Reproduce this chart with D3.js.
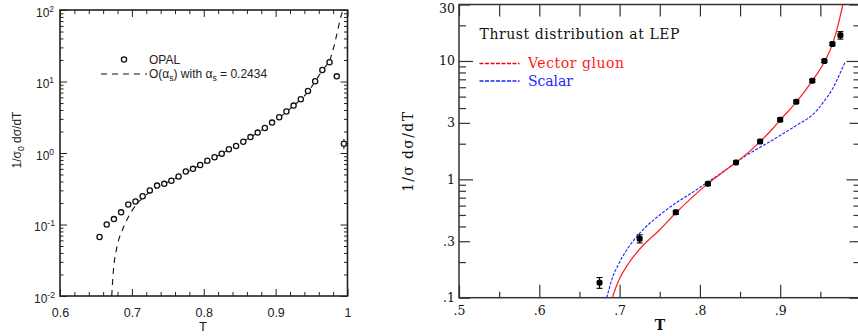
<!DOCTYPE html>
<html>
<head>
<meta charset="utf-8">
<script src="https://cdn.jsdelivr.net/npm/d3@7"></script>
<style>
body { margin: 0; background: #fff; }
svg { display: block; }
.sans text { font-family: "Liberation Sans", Arial, sans-serif; }
.serif text { font-family: "DejaVu Serif", serif; }
</style>
</head>
<body>
<svg id="chart" width="858" height="336"></svg>
<script>
// ---- left panel: OPAL data and O(alpha_s) curve
var opalT = [0.655, 0.665, 0.675, 0.685, 0.695, 0.705, 0.715, 0.725, 0.735, 0.745,
             0.755, 0.765, 0.775, 0.785, 0.795, 0.805, 0.815, 0.825, 0.835, 0.845,
             0.855, 0.865, 0.875, 0.885, 0.895, 0.905, 0.915, 0.925, 0.935, 0.945,
             0.955, 0.965, 0.975, 0.985, 0.995];
var opalY = [0.067, 0.10, 0.119, 0.148, 0.19, 0.21, 0.248, 0.30, 0.35, 0.37,
             0.41, 0.47, 0.55, 0.60, 0.68, 0.78, 0.87, 0.98, 1.13, 1.25,
             1.44, 1.67, 1.93, 2.24, 2.66, 3.16, 3.8, 4.6, 5.64, 7.36,
             10.1, 14.5, 18.6, 11.8, 1.35];
var opalErr = [0.004, 0.006, 0, 0, 0, 0, 0, 0, 0, 0,
               0, 0, 0, 0, 0, 0, 0, 0, 0, 0,
               0, 0, 0, 0, 0, 0, 0, 0, 0, 0,
               0, 0, 0, 0.5, 0.22];

var loT = [0.672, 0.6735, 0.675, 0.678, 0.681, 0.686, 0.69, 0.70, 0.71, 0.72,
           0.73, 0.74, 0.75, 0.76, 0.78, 0.80, 0.82, 0.84, 0.86, 0.88,
           0.90, 0.92, 0.94, 0.95, 0.96, 0.97, 0.975, 0.98, 0.985, 0.99, 0.9935];
var loY = [0.01, 0.018, 0.027, 0.042, 0.058, 0.08, 0.10, 0.155, 0.21, 0.26,
           0.305, 0.35, 0.39, 0.44, 0.56, 0.72, 0.92, 1.18, 1.55, 2.07,
           2.85, 4.15, 6.3, 8.4, 12.0, 16.5, 19.5, 28, 45, 75, 100];

var leftXTicks = [0.6, 0.7, 0.8, 0.9, 1];
var leftXLabels = ["0.6", "0.7", "0.8", "0.9", "1"];
var leftYTicks = [0.01, 0.1, 1, 10, 100];
var leftYExps = ["-2", "-1", "0", "1", "2"];

// ---- right panel: thrust distribution at LEP
var lepT = [0.675, 0.725, 0.77, 0.81, 0.845, 0.875, 0.9, 0.92, 0.94, 0.955, 0.965, 0.975];
var lepY = [0.134, 0.315, 0.526, 0.918, 1.39, 2.09, 3.19, 4.52, 6.8, 10.0, 13.9, 16.5];
var lepErr = [0.014, 0.025, 0.02, 0.03, 0.04, 0.06, 0.1, 0.13, 0.2, 0.3, 0.45, 1.2];

var vectorT = [0.691, 0.695, 0.70, 0.71, 0.72, 0.73, 0.75, 0.77, 0.79, 0.81, 0.83,
               0.845, 0.86, 0.875, 0.89, 0.90, 0.92, 0.94, 0.955, 0.965, 0.972, 0.978];
var vectorY = [0.1, 0.12, 0.145, 0.19, 0.235, 0.28, 0.375, 0.52, 0.70, 0.92, 1.17,
               1.39, 1.68, 2.08, 2.65, 3.17, 4.5, 6.8, 9.8, 13.8, 20, 30];

var scalarT = [0.684, 0.69, 0.70, 0.71, 0.72, 0.73, 0.75, 0.77, 0.79, 0.81, 0.83,
               0.845, 0.86, 0.88, 0.90, 0.92, 0.94, 0.955, 0.965, 0.975, 0.981];
var scalarY = [0.1, 0.14, 0.2, 0.26, 0.32, 0.38, 0.5, 0.63, 0.77, 0.95, 1.17,
               1.39, 1.63, 1.95, 2.35, 2.85, 3.5, 4.6, 5.8, 8.0, 9.9];

var rightXTicks = [0.5, 0.6, 0.7, 0.8, 0.9];
var rightXLabels = [".5", ".6", ".7", ".8", ".9"];
var rightYTicks = [0.1, 0.3, 1, 3, 10, 30];
var rightYLabels = [".1", ".3", "1", "3", "10", "30"];

var svg = d3.select("#chart");
var red = "#ff1a1a";
var blue = "#1f1fff";

// minor log ticks (2..9 of every decade) inside a domain
function logMinors(lo, hi) {
    var out = [];
    for (var e = Math.floor(Math.log10(lo)); e <= Math.ceil(Math.log10(hi)); e++) {
        for (var m = 2; m <= 9; m++) {
            var v = m * Math.pow(10, e);
            if (v > lo * 1.0001 && v < hi * 0.9999) out.push(v);
        }
    }
    return out;
};

// draw one set of ticks with a d3 axis, no domain line
function tickSet(g, axis, values, size, format) {
    g.call(axis.tickValues(values).tickSize(size).tickPadding(0)
        .tickFormat(format || ""));
    g.select(".domain").remove();
    return g;
};

// ---------------- left panel ----------------
function drawLeft() {
    var xL = d3.scaleLinear().domain([0.6, 1]).range([60, 347.5]);
    var yL = d3.scaleLog().domain([0.01, 100]).range([296, 10]);
    var g = svg.append("g").attr("class", "sans");
    var ink = "#222";

    var xMinor = d3.range(0.62, 1.0, 0.02).filter(function(d) {
        return Math.abs(d * 10 - Math.round(d * 10)) > 0.01;
    });
    var yMinor = logMinors(0.01, 100);

    // ticks on all four sides, pointing inwards
    var bottom = g.append("g").attr("transform", "translate(0,296)");
    tickSet(bottom.append("g"), d3.axisBottom(xL), leftXTicks, -7,
        function(d, i) { return leftXLabels[i]; });
    tickSet(bottom.append("g"), d3.axisBottom(xL), xMinor, -4);
    bottom.selectAll("text").attr("y", 12).attr("dy", "0.71em")
        .style("font-size", "12.5px").attr("fill", ink);

    var top = g.append("g").attr("transform", "translate(0,10)");
    tickSet(top.append("g"), d3.axisTop(xL), leftXTicks, -7);
    tickSet(top.append("g"), d3.axisTop(xL), xMinor, -4);

    var left = g.append("g").attr("transform", "translate(60,0)");
    tickSet(left.append("g"), d3.axisLeft(yL), leftYTicks, -7,
        function(d, i) { return "10"; });
    tickSet(left.append("g"), d3.axisLeft(yL), yMinor, -3.5);
    left.selectAll(".tick text")
        .attr("dy", "0.5em")
        .style("font-size", "12px").attr("fill", ink)
        .each(function(d, i) {
            d3.select(this).append("tspan")
                .attr("dy", "-0.55em")
                .style("font-size", "8.5px")
                .text(leftYExps[leftYTicks.indexOf(d)]);
        });
    left.selectAll(".tick text").attr("text-anchor", "start")
        .attr("x", function(d) { return d < 1 ? -26 : -24; });

    var right = g.append("g").attr("transform", "translate(347.5,0)");
    tickSet(right.append("g"), d3.axisRight(yL), leftYTicks, -7);
    tickSet(right.append("g"), d3.axisRight(yL), yMinor, -3.5);

    g.selectAll(".tick line").attr("stroke", ink).attr("stroke-width", 1);

    // frame
    g.append("rect")
        .attr("x", 60).attr("y", 10)
        .attr("width", 287.5).attr("height", 286)
        .attr("fill", "none").attr("stroke", ink).attr("stroke-width", 1.6);

    // O(alpha_s) curve
    var lineL = d3.line()
        .x(function(d) { return xL(d[0]); })
        .y(function(d) { return yL(d[1]); })
        .curve(d3.curveMonotoneX);
    g.append("path")
        .datum(loT.map(function(t, i) { return [t, loY[i]]; }))
        .attr("d", lineL)
        .attr("fill", "none").attr("stroke", "#111")
        .attr("stroke-width", 1.1).attr("stroke-dasharray", "6,5");

    // OPAL points
    var pts = opalT.map(function(t, i) { return { t: t, y: opalY[i], e: opalErr[i] }; });
    g.selectAll(".errL").data(pts.filter(function(d) { return d.e > 0; }))
        .enter().append("line")
        .attr("x1", function(d) { return xL(d.t); })
        .attr("x2", function(d) { return xL(d.t); })
        .attr("y1", function(d) { return yL(d.y - d.e); })
        .attr("y2", function(d) { return yL(d.y + d.e); })
        .attr("stroke", "#111").attr("stroke-width", 1);
    g.selectAll(".opal").data(pts)
        .enter().append("circle")
        .attr("cx", function(d) { return xL(d.t); })
        .attr("cy", function(d) { return yL(d.y); })
        .attr("r", 2.6)
        .attr("fill", "#fff").attr("stroke", "#111").attr("stroke-width", 1.3);

    // legend
    g.append("circle").attr("cx", 124).attr("cy", 59.5).attr("r", 2.6)
        .attr("fill", "#fff").attr("stroke", "#111").attr("stroke-width", 1.3);
    g.append("text").attr("x", 149).attr("y", 63.8)
        .style("font-size", "12px").attr("fill", ink).text("OPAL");
    g.append("line").attr("x1", 101).attr("x2", 147).attr("y1", 74).attr("y2", 74)
        .attr("stroke", "#111").attr("stroke-width", 1.1).attr("stroke-dasharray", "6,5");
    var lt = g.append("text").attr("x", 149).attr("y", 77.8)
        .style("font-size", "12px").attr("fill", ink);
    lt.append("tspan").text("O(\u03b1");
    lt.append("tspan").attr("dy", 3).style("font-size", "8.5px").text("s");
    lt.append("tspan").attr("dy", -3).text(") with \u03b1");
    lt.append("tspan").attr("dy", 3).style("font-size", "8.5px").text("s");
    lt.append("tspan").attr("dy", -3).text(" = 0.2434");

    // axis titles
    g.append("text").attr("x", 203).attr("y", 331)
        .attr("text-anchor", "middle").style("font-size", "13px")
        .attr("fill", ink).text("T");
    var yt = g.append("text")
        .attr("transform", "translate(21,140) rotate(-90)")
        .attr("text-anchor", "middle").style("font-size", "12px").attr("fill", ink);
    yt.append("tspan").text("1/\u03c3");
    yt.append("tspan").attr("dy", 3).style("font-size", "8.5px").text("0");
    yt.append("tspan").attr("dy", -3).text(" d\u03c3/dT");
};

// ---------------- right panel ----------------
function drawRight() {
    var xR = d3.scaleLinear().domain([0.5, 1]).range([459, 860.5]);
    var yR = d3.scaleLog().domain([0.1, 30]).range([297.7, 4.5]);
    var g = svg.append("g").attr("class", "serif");
    var ink = "#333";

    var xMinor = [0.55, 0.65, 0.75, 0.85, 0.95];
    var yMinor = logMinors(0.1, 30).filter(function(d) {
        return rightYTicks.indexOf(+d.toPrecision(3)) < 0;
    });
    var yMajor = [1, 10];
    var yMid = [0.1, 0.3, 3, 30];

    var bottom = g.append("g").attr("transform", "translate(0,297.7)");
    tickSet(bottom.append("g"), d3.axisBottom(xR), rightXTicks, -13,
        function(d, i) { return rightXLabels[i]; });
    tickSet(bottom.append("g"), d3.axisBottom(xR), xMinor, -6);
    bottom.selectAll("text").attr("y", 8).attr("dy", "0.71em")
        .style("font-size", "12.5px").attr("fill", "#111");

    var top = g.append("g").attr("transform", "translate(0,4.5)");
    tickSet(top.append("g"), d3.axisTop(xR), rightXTicks.concat(xMinor), -12);

    var left = g.append("g").attr("transform", "translate(459,0)");
    tickSet(left.append("g"), d3.axisLeft(yR), yMajor, -14);
    tickSet(left.append("g"), d3.axisLeft(yR), yMid, -11);
    tickSet(left.append("g"), d3.axisLeft(yR), yMinor, -7);
    tickSet(left.append("g"), d3.axisLeft(yR), rightYTicks, 0,
        function(d, i) { return rightYLabels[i]; });
    left.selectAll("text").attr("x", -4)
        .style("font-size", "12.5px").attr("fill", "#111")
        .attr("dy", function(d) { return d === 30 ? "0.62em" : "0.32em"; });

    var right = g.append("g").attr("transform", "translate(860.5,0)");
    tickSet(right.append("g"), d3.axisRight(yR), yMajor, -14);
    tickSet(right.append("g"), d3.axisRight(yR), yMid, -11);
    tickSet(right.append("g"), d3.axisRight(yR), yMinor, -7);

    g.selectAll(".tick line").attr("stroke", ink).attr("stroke-width", 1.2);

    // frame
    g.append("rect")
        .attr("x", 459).attr("y", 4.5)
        .attr("width", 401.5).attr("height", 293.2)
        .attr("fill", "none").attr("stroke", ink).attr("stroke-width", 1.5);

    // clip for the curves
    svg.append("clipPath").attr("id", "clipR")
        .append("rect").attr("x", 459).attr("y", 4.5)
        .attr("width", 401.5).attr("height", 293.2);

    var lineR = d3.line()
        .x(function(d) { return xR(d[0]); })
        .y(function(d) { return yR(d[1]); })
        .curve(d3.curveMonotoneX);
    var curves = g.append("g").attr("clip-path", "url(#clipR)");
    curves.append("path")
        .datum(scalarT.map(function(t, i) { return [t, scalarY[i]]; }))
        .attr("d", lineR)
        .attr("fill", "none").attr("stroke", blue)
        .attr("stroke-width", 1.1).attr("stroke-dasharray", "3,1.5");
    curves.append("path")
        .datum(vectorT.map(function(t, i) { return [t, vectorY[i]]; }))
        .attr("d", lineR)
        .attr("fill", "none").attr("stroke", red)
        .attr("stroke-width", 1.2);

    // data with error bars
    var pts = lepT.map(function(t, i) { return { t: t, y: lepY[i], e: lepErr[i] }; });
    var dots = g.selectAll(".lep").data(pts).enter().append("g");
    dots.append("line")
        .attr("x1", function(d) { return xR(d.t); })
        .attr("x2", function(d) { return xR(d.t); })
        .attr("y1", function(d) { return yR(d.y - d.e); })
        .attr("y2", function(d) { return yR(d.y + d.e); })
        .attr("stroke", "#000").attr("stroke-width", 1.2);
    [-1, 1].forEach(function(s) {
        dots.append("line")
            .attr("x1", function(d) { return xR(d.t) - 3; })
            .attr("x2", function(d) { return xR(d.t) + 3; })
            .attr("y1", function(d) { return yR(d.y + s * d.e); })
            .attr("y2", function(d) { return yR(d.y + s * d.e); })
            .attr("stroke", "#000").attr("stroke-width", 1.1);
    });
    dots.append("rect")
        .attr("x", function(d) { return xR(d.t) - 3; })
        .attr("y", function(d) { return yR(d.y) - 3; })
        .attr("width", 6).attr("height", 6).attr("rx", 1.8)
        .attr("fill", "#000");

    // title and legend
    g.append("text").attr("x", 479.5).attr("y", 39)
        .attr("textLength", 200).attr("lengthAdjust", "spacing")
        .style("font-size", "14px").attr("fill", "#111")
        .text("Thrust distribution at LEP");
    g.append("path").attr("d", "M479.5,63.5H519.5")
        .attr("fill", "none").attr("stroke", "#ff0000")
        .attr("stroke-width", 1.5).attr("stroke-dasharray", "4,1.5");
    g.append("text").attr("x", 528).attr("y", 68)
        .attr("textLength", 96).attr("lengthAdjust", "spacing")
        .style("font-size", "14px").attr("fill", red).text("Vector gluon");
    g.append("path").attr("d", "M479.5,81H519.5")
        .attr("fill", "none").attr("stroke", blue)
        .attr("stroke-width", 1.3).attr("stroke-dasharray", "4,1.5");
    g.append("text").attr("x", 528).attr("y", 85.5)
        .attr("textLength", 45).attr("lengthAdjust", "spacing")
        .style("font-size", "14px").attr("fill", blue).text("Scalar");

    // axis titles
    g.append("text").attr("x", 660).attr("y", 330)
        .attr("text-anchor", "middle").style("font-size", "14px")
        .style("font-weight", "bold").attr("fill", "#111").text("T");
    g.append("text")
        .attr("transform", "translate(413,152) rotate(-90)")
        .attr("text-anchor", "middle")
        .attr("textLength", 80).attr("lengthAdjust", "spacing")
        .style("font-size", "14px").attr("fill", "#111")
        .text("1/\u03c3 d\u03c3/dT");
};

drawLeft();
drawRight();
</script>
</body>
</html>
